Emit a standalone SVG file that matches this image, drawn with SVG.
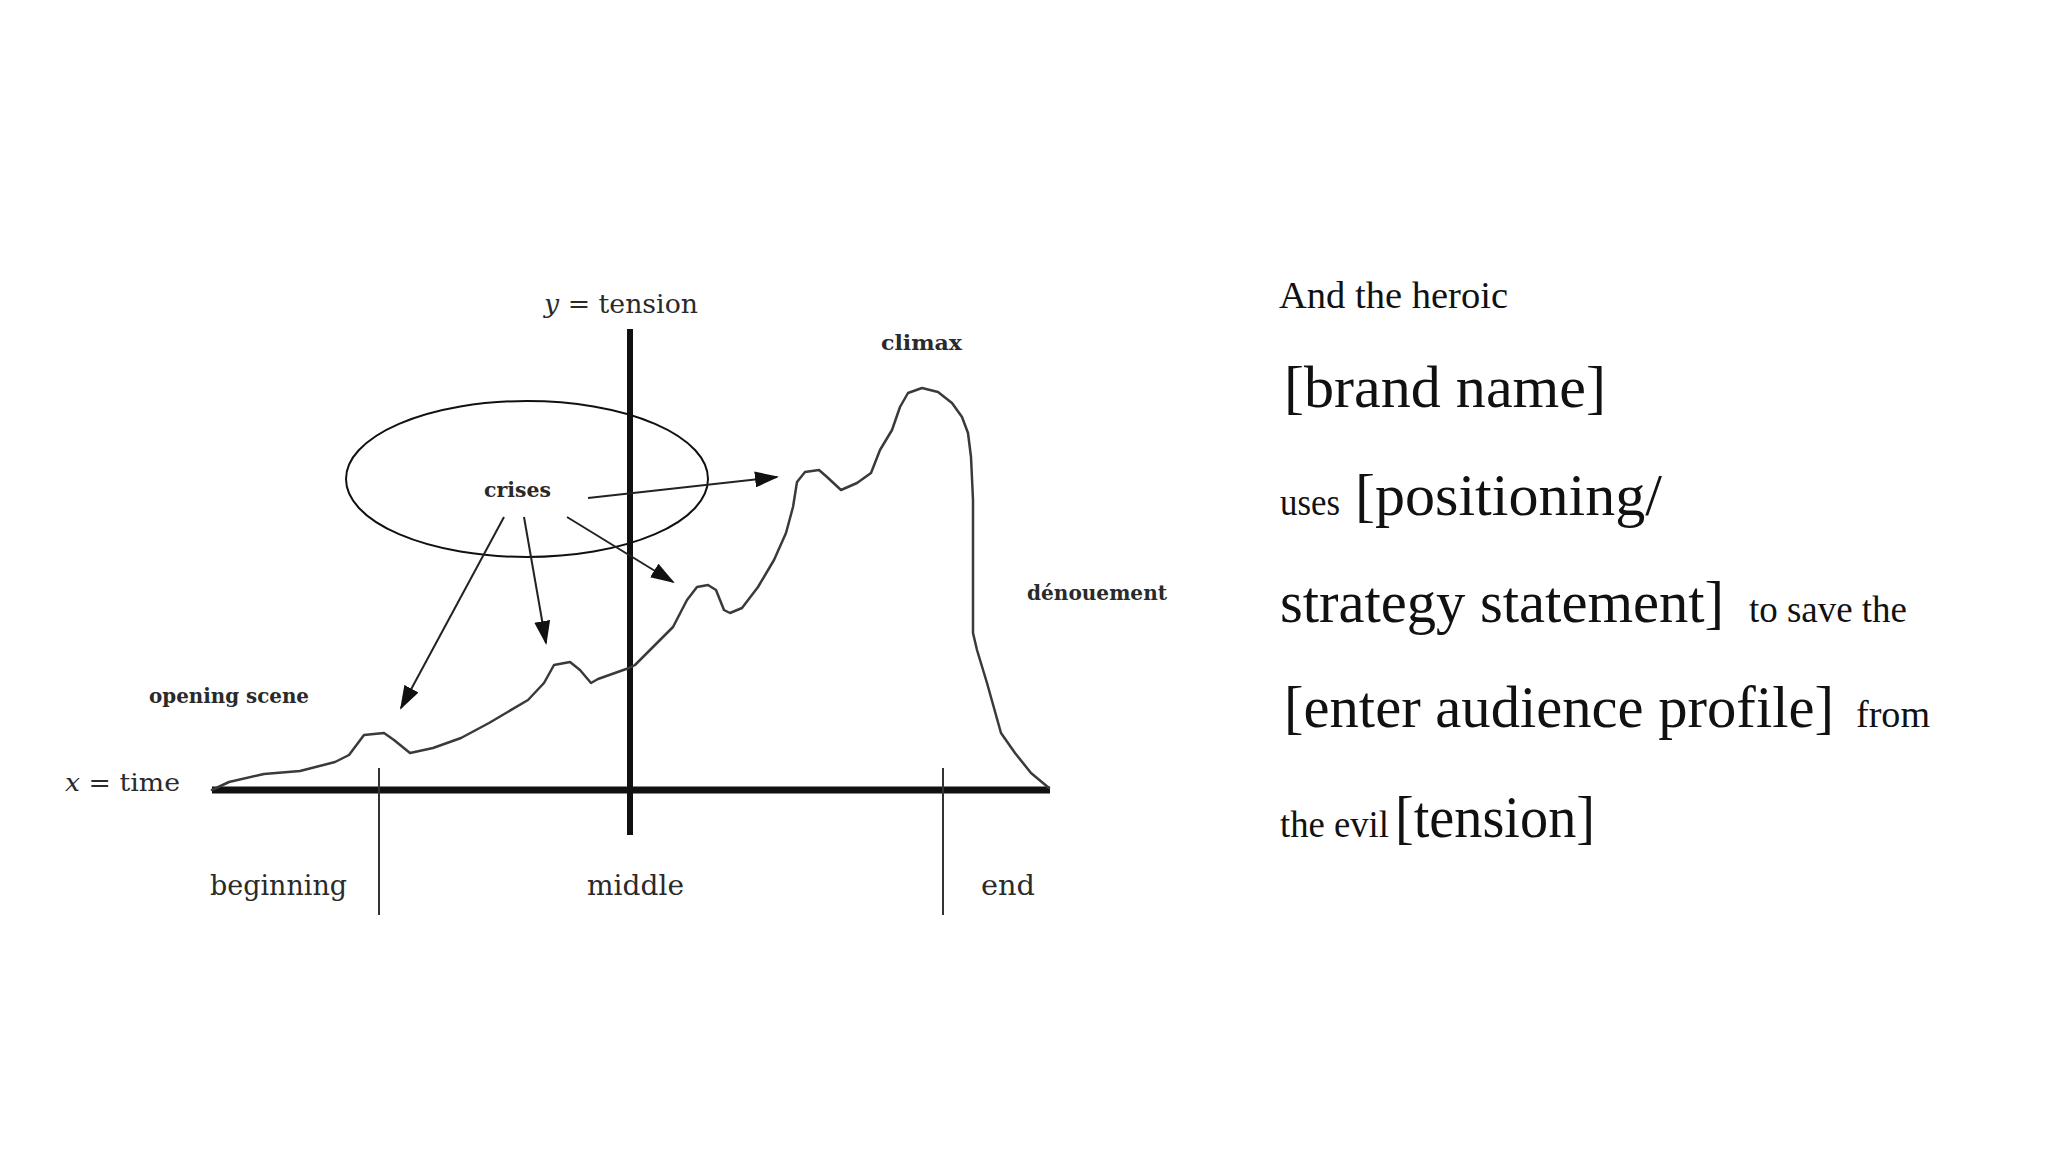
<svg xmlns="http://www.w3.org/2000/svg" width="2048" height="1152" viewBox="0 0 2048 1152">
  <style>
    .lbl { font-family: "DejaVu Serif", "Liberation Serif", serif; fill: #2a2a2a; }
    .slab { font-family: "DejaVu Serif", "Liberation Serif", serif; fill: #2a2a2a; font-weight: bold; }
    .rt { font-family: "Liberation Serif", "Times New Roman", serif; fill: #111; }
    .axis { stroke: #111; fill: none; }
    .tick { stroke: #333; stroke-width: 2; fill: none; }
    .curve { stroke: #3a3a3a; stroke-width: 2.5; fill: none; stroke-linejoin: round; stroke-linecap: round; }
    .arrow { stroke: #222; stroke-width: 2; fill: none; marker-end: url(#head); }
  </style>
  <defs>
    <marker id="head" markerUnits="userSpaceOnUse" markerWidth="24" markerHeight="16" refX="22" refY="8" orient="auto">
      <path d="M0,0 L24,8 L0,16 Z" fill="#111"/>
    </marker>
  </defs>
  <rect width="2048" height="1152" fill="#fff"/>

  <g id="chart-axes">
    <line class="axis" x1="630" y1="329" x2="630" y2="835" stroke-width="6"/>
    <line class="axis" x1="212" y1="790" x2="1050" y2="790" stroke-width="7"/>
    <line class="tick" x1="379" y1="768" x2="379" y2="915"/>
    <line class="tick" x1="943" y1="768" x2="943" y2="915"/>
  </g>

  <g id="tension-curve">
    <polyline class="curve" points="212,790 229,782 264,774 300,771 335,762 349,755 364,735 384,733 394,740 410,753 433,748 461,738 489,723 528,700 544,683 554,665 570,662 580,670 591,683 598,679 629,668 635,665 647,653 673,627 687,600 697,587 708,585 716,590 724,610 730,613 742,608 758,587 774,560 786,533 793,507 797,482 805,472 819,470 827,477 841,490 857,483 871,473 880,450 892,430 900,407 908,393 922,388 938,392 952,403 962,417 968,433 971,457 973,500 973,567 973,633 977,650 987,683 1001,733 1015,753 1031,773 1049,788"/>
  </g>

  <g id="crises-node">
    <ellipse cx="527" cy="479" rx="181" ry="78" fill="none" stroke="#111" stroke-width="2"/>
    <text class="slab" x="484" y="497" font-size="20" textLength="67" lengthAdjust="spacingAndGlyphs">crises</text>
  </g>

  <g id="labels">
    <text class="lbl" x="544" y="313" font-size="26" textLength="154" lengthAdjust="spacingAndGlyphs"><tspan font-style="italic">y</tspan> = tension</text>
    <text class="slab" x="881" y="350" font-size="20" textLength="81" lengthAdjust="spacingAndGlyphs">climax</text>
    <text class="slab" x="1027" y="600" font-size="20" textLength="140" lengthAdjust="spacingAndGlyphs">dénouement</text>
    <text class="slab" x="149" y="703" font-size="20" textLength="160" lengthAdjust="spacingAndGlyphs">opening scene</text>
    <text class="lbl" x="65" y="791" font-size="25" textLength="115" lengthAdjust="spacingAndGlyphs"><tspan font-style="italic">x</tspan> = time</text>
    <text class="lbl" x="210" y="895" font-size="27" textLength="137" lengthAdjust="spacingAndGlyphs">beginning</text>
    <text class="lbl" x="587" y="895" font-size="27" textLength="97" lengthAdjust="spacingAndGlyphs">middle</text>
    <text class="lbl" x="981" y="895" font-size="27" textLength="54" lengthAdjust="spacingAndGlyphs">end</text>
  </g>

  <g id="connectors">
    <line class="arrow" x1="504" y1="517" x2="401" y2="708"/>
    <line class="arrow" x1="524" y1="517" x2="546" y2="643"/>
    <line class="arrow" x1="567" y1="517" x2="673" y2="582"/>
    <line class="arrow" x1="588" y1="498" x2="777" y2="477"/>
  </g>

  <g id="statement">
    <text class="rt" x="1279" y="308" font-size="38" textLength="229" lengthAdjust="spacingAndGlyphs">And the heroic</text>
    <text class="rt" x="1284" y="407" font-size="60" textLength="322" lengthAdjust="spacingAndGlyphs">[brand name]</text>
    <text class="rt" x="1280" y="515" font-size="38" textLength="60" lengthAdjust="spacingAndGlyphs">uses</text>
    <text class="rt" x="1355" y="515" font-size="60" textLength="307" lengthAdjust="spacingAndGlyphs">[positioning/</text>
    <text class="rt" x="1280" y="622" font-size="60" textLength="444" lengthAdjust="spacingAndGlyphs">strategy statement]</text>
    <text class="rt" x="1749" y="622" font-size="38" textLength="158" lengthAdjust="spacingAndGlyphs">to save the</text>
    <text class="rt" x="1284" y="727" font-size="60" textLength="550" lengthAdjust="spacingAndGlyphs">[enter audience profile]</text>
    <text class="rt" x="1856" y="727" font-size="38" textLength="74" lengthAdjust="spacingAndGlyphs">from</text>
    <text class="rt" x="1280" y="837" font-size="38" textLength="109" lengthAdjust="spacingAndGlyphs">the evil</text>
    <text class="rt" x="1395" y="837" font-size="60" textLength="200" lengthAdjust="spacingAndGlyphs">[tension]</text>
  </g>
</svg>
